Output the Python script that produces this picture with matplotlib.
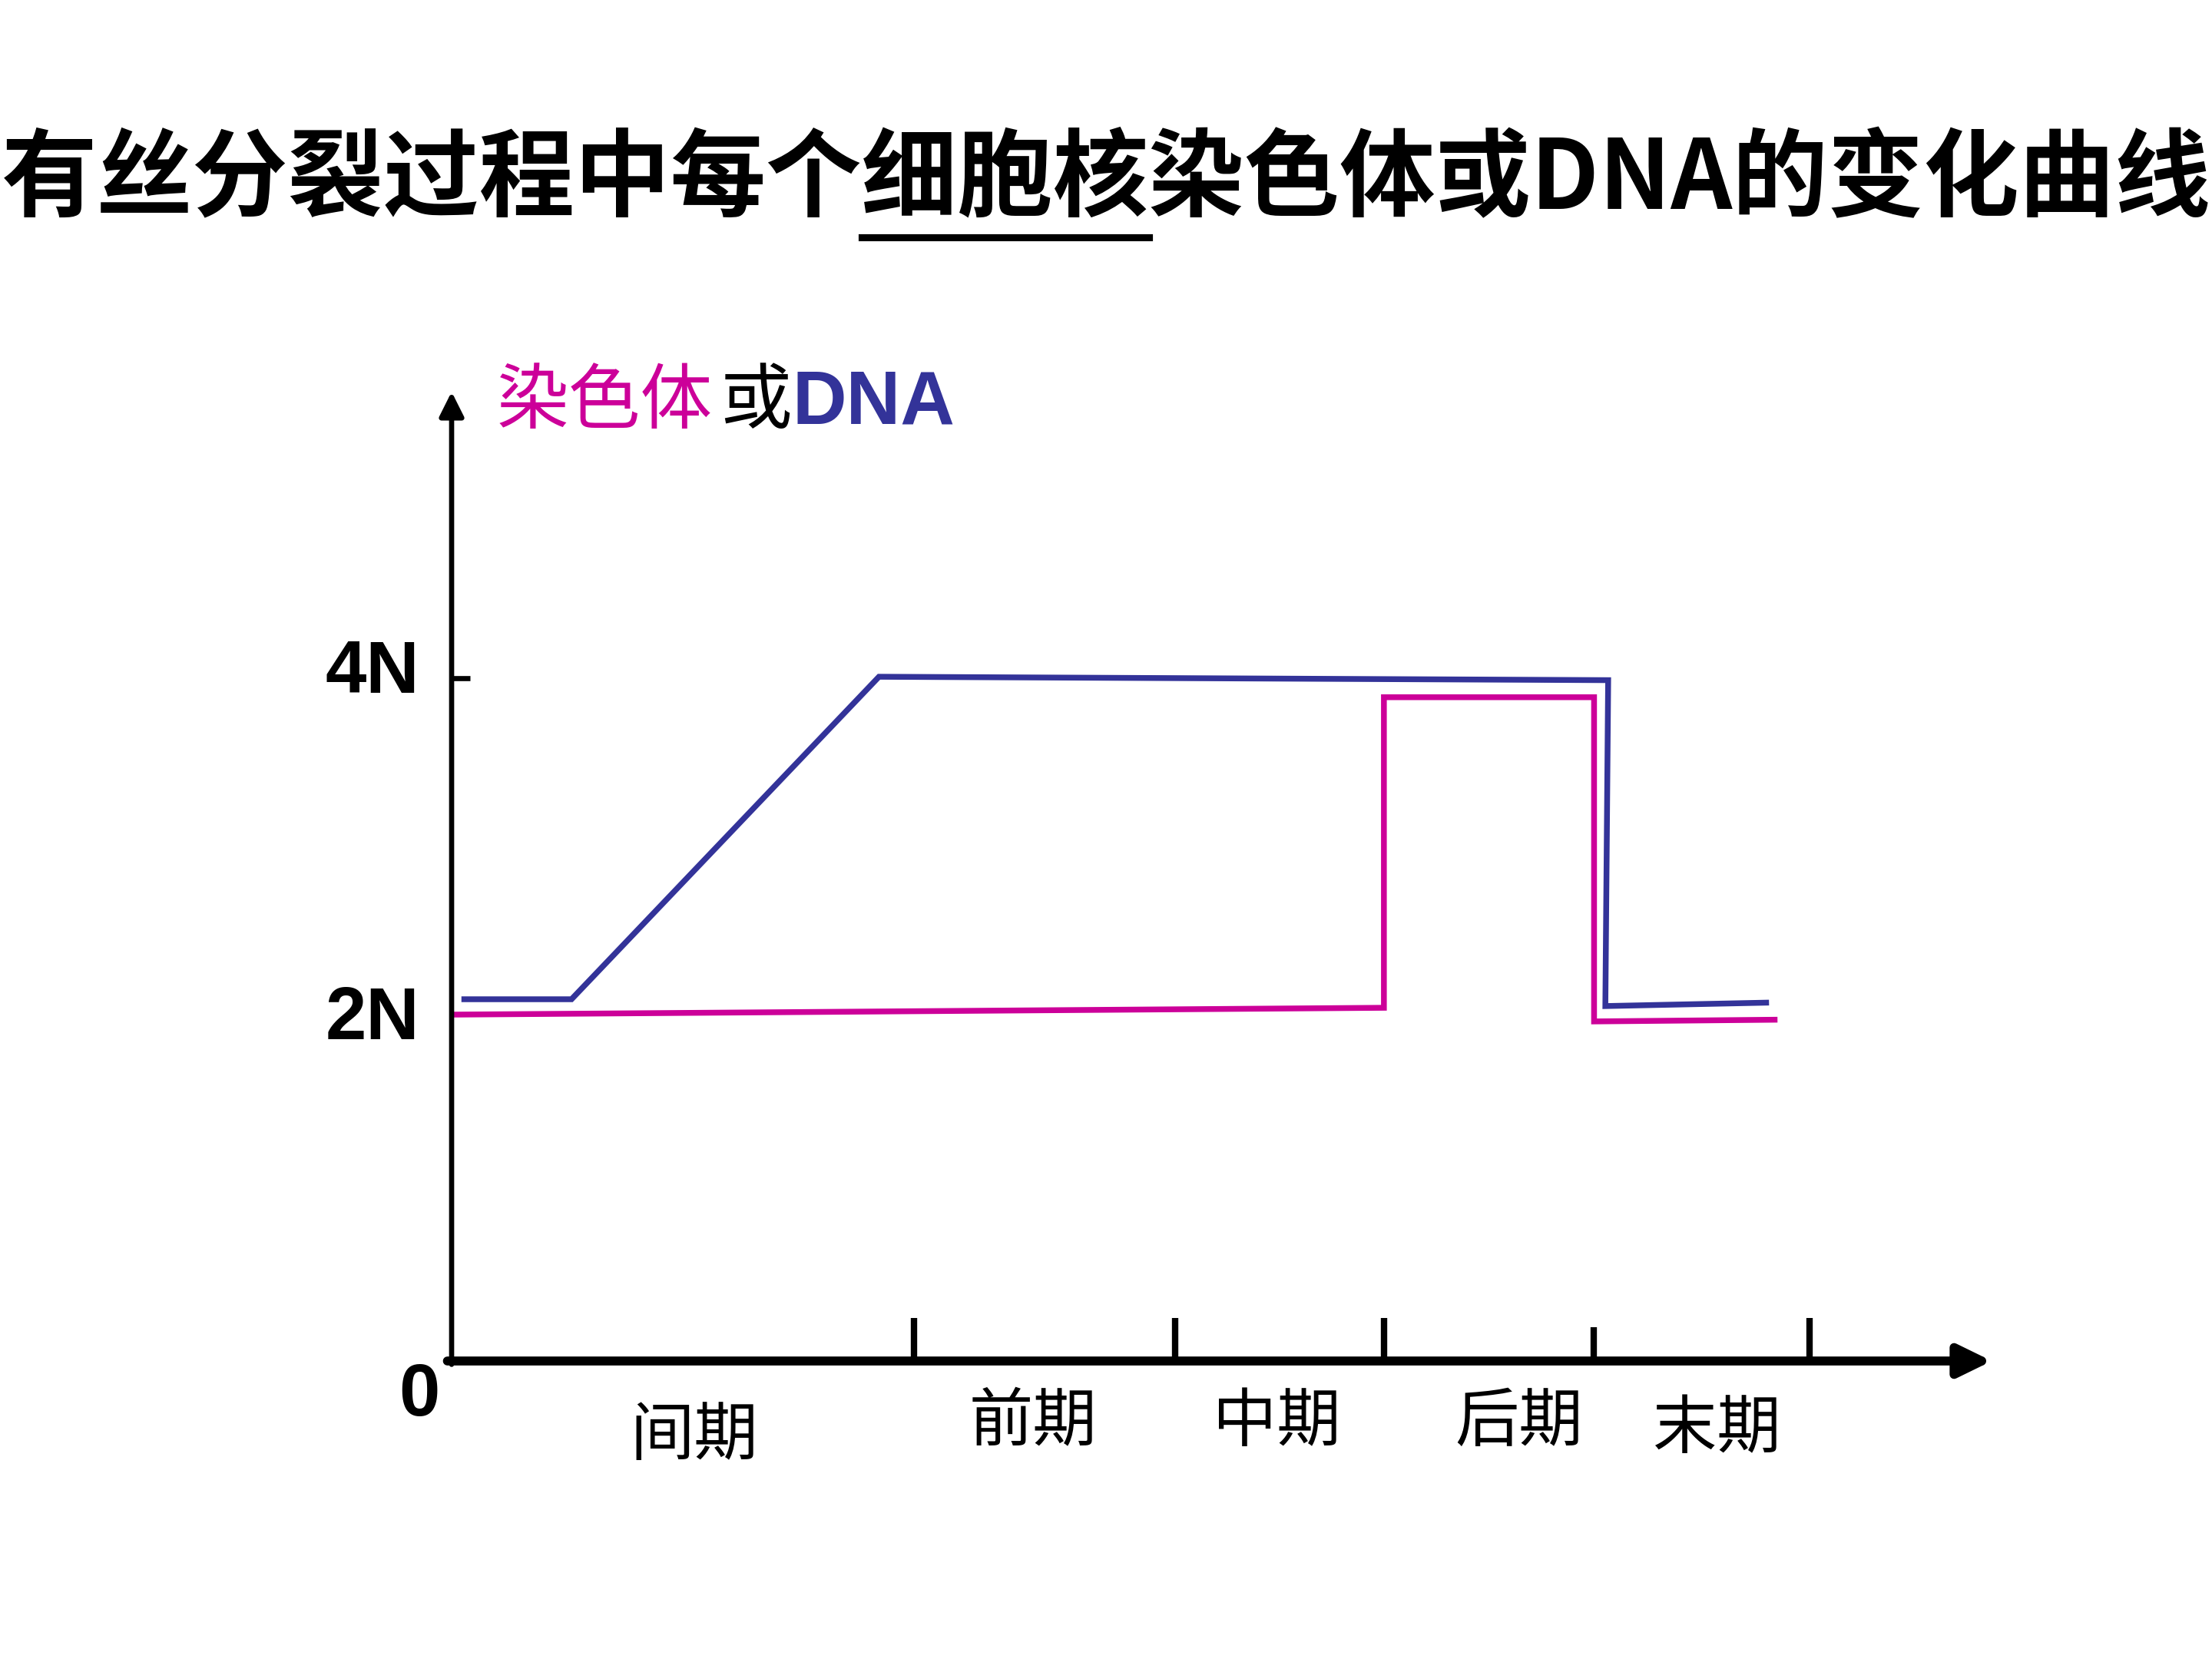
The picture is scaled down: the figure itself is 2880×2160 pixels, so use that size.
import matplotlib
matplotlib.use('Agg')
import matplotlib.pyplot as plt
from matplotlib.lines import Line2D

plt.rcParams['font.family'] = ['Noto Sans CJK SC', 'DejaVu Sans']

BLUE = '#333399'
MAGENTA = '#CC0099'

# data (x in arbitrary time units, y in units of N)
dna_x = [0.09, 0.85, 3.03, 8.20, 8.18, 9.32]
dna_y = [2.12, 2.12, 4.01, 3.99, 2.08, 2.10]
chrom_x = [0.02, 6.61, 6.61, 8.10, 8.10, 9.38]
chrom_y = [2.03, 2.07, 3.89, 3.89, 1.99, 2.00]

phase_ticks = [3.28, 5.13, 6.61, 8.10, 9.63]
tick_heights = [0.25, 0.25, 0.25, 0.2, 0.25]
phase_names = ['间期', '前期', '中期', '后期', '末期']
phase_label_x = [1.72, 4.12, 5.85, 7.57, 8.97]
phase_label_y = [-0.44, -0.36, -0.36, -0.36, -0.40]

ytick_vals = [4, 2]
ytick_labels = ['4N', '2N']

title_pre = '有丝分裂过程中每个'
title_mid = '细胞核'
title_post = '染色体或DNA的变化曲线'

fig = plt.figure(figsize=(9.6, 7.2), dpi=300)
W, H = 2880, 2160
ax = fig.add_axes([588 / W, 1 - 1772 / H, (2608 - 588) / W, (1772 - 439) / H])
ax.set_xlim(0, 11)
ax.set_ylim(0, 6)
ax.axis('off')

# axes with arrows
ax.annotate('', xy=(0, 5.68), xytext=(0, -0.02),
            arrowprops=dict(arrowstyle='-|>,head_length=0.4,head_width=0.2',
                            mutation_scale=16, lw=1.6, color='black',
                            shrinkA=0, shrinkB=0), annotation_clip=False)
ax.annotate('', xy=(10.92, 0), xytext=(-0.03, 0),
            arrowprops=dict(arrowstyle='-|>,head_length=0.43,head_width=0.21',
                            mutation_scale=20, lw=2.8, color='black',
                            shrinkA=0, shrinkB=0), annotation_clip=False)

# phase boundary ticks
for xt, th in zip(phase_ticks, tick_heights):
    ax.vlines(xt, 0, th, color='black', lw=2.0, clip_on=False)
# 4N tick
ax.hlines(4, 0, 0.13, color='black', lw=1.6, clip_on=False)

# curves
ax.plot(dna_x, dna_y, color=BLUE, lw=1.8, clip_on=False,
        solid_joinstyle='miter')
ax.plot(chrom_x, chrom_y, color=MAGENTA, lw=1.8, clip_on=False,
        solid_joinstyle='miter')

# y tick labels
for v, lab in zip(ytick_vals, ytick_labels):
    ax.text(-0.23, v + (0.03 if v == 4 else 0.0), lab, ha='right', va='center',
            fontsize=23, fontweight='bold', family='Liberation Sans', clip_on=False)
ax.text(-0.23, -0.207, '0', ha='center', va='center', fontsize=23,
        fontweight='bold', family='Liberation Sans', clip_on=False)

# phase labels
for name, lx, ly in zip(phase_names, phase_label_x, phase_label_y):
    ax.text(lx, ly, name, ha='center', va='center', fontsize=20, clip_on=False)

# y axis label, multi-coloured
yb = 1 - 551 / H
fig.text(647 / W, yb, '染色体', color=MAGENTA, fontsize=22.5, va='baseline')
fig.text(937 / W, yb, '或', color='black', fontsize=22.5, va='baseline')
fig.text(1032 / W, yb, 'DNA', color=BLUE, fontsize=23.5, fontweight='bold',
         family='Liberation Sans', va='baseline')

# title, with 细胞核 underlined
tkw = dict(fontsize=29.9, fontweight='bold')
title = fig.text(0.5, 1 - 236 / H, title_pre + title_mid + title_post,
                 ha='center', va='center', **tkw)
r = fig.canvas.get_renderer()
full = title.get_window_extent(r)
tmp = fig.text(0, 0, title_pre, **tkw)
w_pre = tmp.get_window_extent(r).width
tmp.set_text(title_pre + title_mid)
w_mid = tmp.get_window_extent(r).width
tmp.remove()
x0 = (full.x0 + w_pre) / W
x1 = (full.x0 + w_mid) / W
fig.add_artist(Line2D([x0, x1], [1 - 309 / H, 1 - 309 / H],
                      color='black', lw=2.2, transform=fig.transFigure))

fig.savefig('out.png', dpi=300, facecolor='white')
